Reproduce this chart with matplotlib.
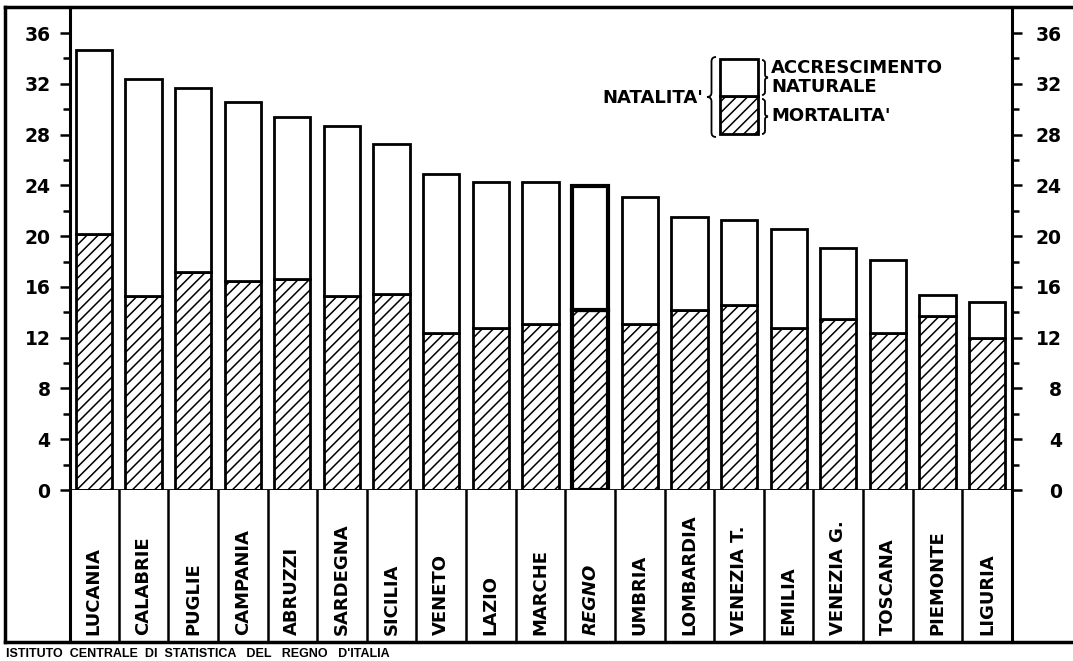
import numpy as np
import matplotlib
matplotlib.use('Agg')
import matplotlib.pyplot as plt
from matplotlib.lines import Line2D
from matplotlib.patches import Rectangle, PathPatch
from matplotlib.path import Path

W, H = 1073, 661

regioni = ['LUCANIA', 'CALABRIE', 'PUGLIE', 'CAMPANIA', 'ABRUZZI', 'SARDEGNA',
           'SICILIA', 'VENETO', 'LAZIO', 'MARCHE', 'REGNO', 'UMBRIA',
           'LOMBARDIA', 'VENEZIA T.', 'EMILIA', 'VENEZIA G.', 'TOSCANA',
           'PIEMONTE', 'LIGURIA']
natalita = [34.65, 32.35, 31.65, 30.55, 29.35, 28.65, 27.25, 24.9, 24.3, 24.25,
            23.95, 23.1, 21.5, 21.25, 20.55, 19.05, 18.1, 15.35, 14.8]
mortalita = [20.15, 15.3, 17.2, 16.45, 16.6, 15.3, 15.45, 12.35, 12.75, 13.1,
             14.2, 13.1, 14.15, 14.55, 12.8, 13.45, 12.4, 13.7, 12.0]
accrescimento = [n - m for n, m in zip(natalita, mortalita)]
yticks = np.arange(0, 37, 4)
yminor = np.arange(2, 37, 4)

plt.rcParams['hatch.linewidth'] = 1.1
plt.rcParams['font.weight'] = 'bold'


# pixel -> figure fraction
def fx(x):
    return x / W


def fy(y):
    return 1 - y / H


def brace(xb, ytop, ybot, w, s):
    # s=+1 -> tip to the left "{", s=-1 -> tip to the right "}"
    ym = (ytop + ybot) / 2
    xm = xb - s * w / 2
    xt = xb - s * w
    q = w / 2
    pts = [(xb, ytop), (xm, ytop), (xm, ytop + q), (xm, ym - q), (xm, ym), (xt, ym),
           (xm, ym), (xm, ym + q), (xm, ybot - q), (xm, ybot), (xb, ybot)]
    codes = [Path.MOVETO, Path.CURVE3, Path.CURVE3, Path.LINETO, Path.CURVE3, Path.CURVE3,
             Path.CURVE3, Path.CURVE3, Path.LINETO, Path.CURVE3, Path.CURVE3]
    p = Path([(fx(a), fy(b)) for a, b in pts], codes)
    fig.add_artist(PathPatch(p, fill=False, lw=1.3, color='black',
                             transform=fig.transFigure))


fig = plt.figure(figsize=(W / 100, H / 100), dpi=100)
fig.patch.set_facecolor('white')

ax = fig.add_axes([fx(70), fy(490), fx(1012) - fx(70), fy(7) - fy(490)])
x = np.arange(len(regioni))
lw = [3.0 if r == 'REGNO' else 2.0 for r in regioni]
ax.bar(x, mortalita, width=0.73, color='white', edgecolor='black',
       hatch='///', linewidth=lw)
ax.bar(x, accrescimento, bottom=mortalita, width=0.73, color='white',
       edgecolor='black', linewidth=lw)
ax.set_xlim(-0.48, 18.5)
ax.set_ylim(0, 38.05)
ax.set_xticks([])
ax.set_yticks(yticks)
ax.set_yticks(yminor, minor=True)
ax.tick_params(axis='y', which='both', direction='out', width=1.8, labelsize=13.5, pad=7)
ax.tick_params(axis='y', which='major', length=7)
ax.tick_params(axis='y', which='minor', length=5)
ax.spines['top'].set_visible(False)
ax.spines['bottom'].set_linewidth(2)
ax.spines['left'].set_linewidth(2.2)
ax.spines['right'].set_linewidth(2.2)

ax2 = ax.twinx()
ax2.set_ylim(ax.get_ylim())
ax2.set_yticks(yticks)
ax2.set_yticks(yminor, minor=True)
ax2.tick_params(axis='y', which='both', direction='out', width=1.8, labelsize=13.5, pad=29)
ax2.tick_params(axis='y', which='major', length=7)
ax2.tick_params(axis='y', which='minor', length=5)
for t in ax2.get_yticklabels():
    t.set_horizontalalignment('right')
for s in ax2.spines.values():
    s.set_visible(False)

# label box under the bars
lab = fig.add_axes([fx(70), fy(642), fx(1012) - fx(70), fy(490) - fy(642)])
lab.set_xlim(-0.48, 18.5)
lab.set_ylim(0, 1)
lab.set_xticks([])
lab.set_yticks([])
lab.spines['top'].set_visible(False)
lab.spines['bottom'].set_visible(False)
lab.spines['left'].set_linewidth(2.2)
lab.spines['right'].set_linewidth(2.2)
for k in range(len(regioni) - 1):
    lab.axvline(k + 0.5, color='black', lw=1.8)
for xi, r in zip(x, regioni):
    lab.text(xi, 0.046, r, rotation=90, ha='center', va='bottom', fontsize=13,
             style='italic' if r == 'REGNO' else 'normal')

# outer frame
fig.add_artist(Line2D([fx(5), fx(1073)], [fy(7), fy(7)], lw=2.5, color='black',
                      transform=fig.transFigure))
fig.add_artist(Line2D([fx(5), fx(5)], [fy(7), fy(642)], lw=2.5, color='black',
                      transform=fig.transFigure))
fig.add_artist(Line2D([fx(5), fx(1073)], [fy(642), fy(642)], lw=2.5, color='black',
                      transform=fig.transFigure))

# legend
fig.add_artist(Rectangle((fx(720), fy(134)), fx(758) - fx(720), fy(96) - fy(134),
                         facecolor='white', edgecolor='black', hatch='///', lw=2,
                         transform=fig.transFigure))
fig.add_artist(Rectangle((fx(720), fy(96)), fx(758) - fx(720), fy(59) - fy(96),
                         facecolor='white', edgecolor='black', lw=2,
                         transform=fig.transFigure))
brace(716, 57, 137, 9, 1)
brace(762, 60, 95, 6, -1)
brace(762, 99, 134, 6, -1)
fig.text(fx(703), fy(98), "NATALITA'", ha='right', va='center', fontsize=13)
fig.text(fx(771), fy(68), 'ACCRESCIMENTO', ha='left', va='center', fontsize=13)
fig.text(fx(771), fy(87), 'NATURALE', ha='left', va='center', fontsize=13)
fig.text(fx(771), fy(116), "MORTALITA'", ha='left', va='center', fontsize=13)

fig.text(fx(6), fy(654), "ISTITUTO  CENTRALE  DI  STATISTICA   DEL   REGNO   D'ITALIA",
         ha='left', va='center', fontsize=9, fontweight='bold',
         family=['Liberation Sans', 'DejaVu Sans'])

fig.savefig('out.png', dpi=100)
